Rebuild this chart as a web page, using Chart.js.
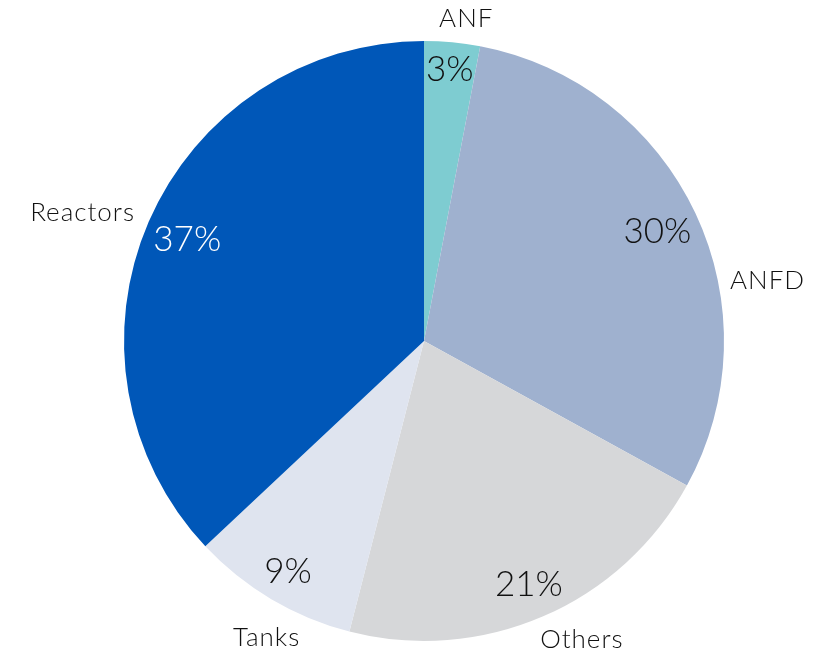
<!DOCTYPE html>
<html><head><meta charset="utf-8">
<script src="https://cdn.jsdelivr.net/npm/chart.js@4/dist/chart.umd.min.js"></script>
<style>html,body{margin:0;padding:0;background:#fff;}#wrap{width:818px;height:655px;position:relative;}</style>
</head><body><div id="wrap"><canvas id="c" width="818" height="655"></canvas></div>
<script>
const categories = ['ANF', 'ANFD', 'Others', 'Tanks', 'Reactors'];
const shares = [3, 30, 21, 9, 37];
const percentLabels = ['3%', '30%', '21%', '9%', '37%'];

const colors = ['#7ECCD1', '#9FB1CF', '#D6D7D9', '#DFE4EF', '#0057B8'];
const pctColors = ['#111', '#111', '#111', '#111', '#fff'];
// label layout: percent radius factor; name angle fraction within slice and radius factor
const pctRadius = [0.91, 0.86, 0.88, 0.89, 0.86];
const nameFrac = [0.69, 0.64, 0.44, 0.42, 0.48];
const nameRadius = [1.087, 1.163, 1.123, 1.117, 1.217];

const labelPlugin = {
  id: 'labels',
  afterDatasetsDraw(chart) {
    const ctx = chart.ctx;
    const meta = chart.getDatasetMeta(0);
    ctx.save();
    ctx.textAlign = 'center';
    ctx.textBaseline = 'middle';
    meta.data.forEach((arc, i) => {
      const p = arc.getProps(['x', 'y', 'startAngle', 'endAngle', 'outerRadius'], true);
      const mid = (p.startAngle + p.endAngle) / 2;
      const r = p.outerRadius;
      ctx.letterSpacing = '0px';
      ctx.font = '300 35px Lato, "Open Sans", sans-serif';
      ctx.fillStyle = pctColors[i];
      ctx.fillText(percentLabels[i], p.x + Math.cos(mid) * r * pctRadius[i], p.y + Math.sin(mid) * r * pctRadius[i] + 1);
      const a = p.startAngle + (p.endAngle - p.startAngle) * nameFrac[i];
      ctx.letterSpacing = '1px';
      ctx.font = '300 26px Lato, "Open Sans", sans-serif';
      ctx.fillStyle = '#111';
      ctx.fillText(categories[i], p.x + Math.cos(a) * r * nameRadius[i], p.y + Math.sin(a) * r * nameRadius[i] + 1);
    });
    ctx.restore();
  }
};

new Chart(document.getElementById('c'), {
  type: 'pie',
  data: {
    labels: categories,
    datasets: [{ data: shares, backgroundColor: colors, borderWidth: 0 }]
  },
  options: {
    responsive: false,
    animation: false,
    layout: { padding: { left: 124, right: 94, top: 41, bottom: 14 } },
    plugins: { legend: { display: false }, tooltip: { enabled: false } }
  },
  plugins: [labelPlugin]
});
</script></body></html>
